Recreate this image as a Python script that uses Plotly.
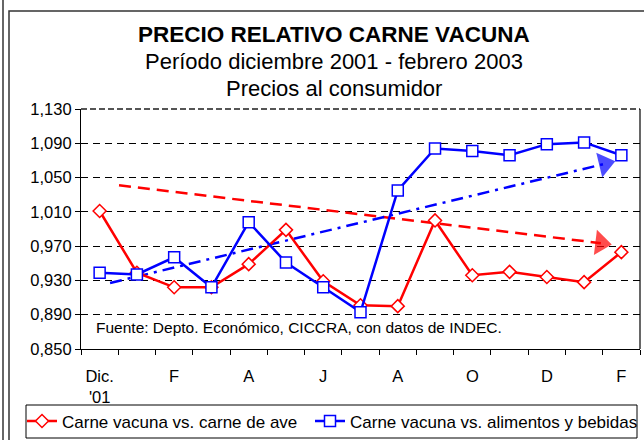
import plotly.graph_objects as go

# ---- data ----
months = ["Dic. '01", "Ene", "Feb", "Mar", "Abr", "May", "Jun", "Jul",
          "Ago", "Sep", "Oct", "Nov", "Dic", "Ene", "Feb"]
tick_idx = [0, 2, 4, 6, 8, 10, 12, 14]
tick_labels = ["Dic.<br>'01", "F", "A", "J", "A", "O", "D", "F"]

vs_ave = [1.011, 0.939, 0.922, 0.922, 0.949, 0.989, 0.929, 0.901, 0.900,
          1.000, 0.936, 0.940, 0.934, 0.928, 0.963]
vs_alim = [0.939, 0.937, 0.957, 0.922, 0.998, 0.951, 0.922, 0.893, 1.035,
           1.084, 1.081, 1.076, 1.089, 1.091, 1.076]

# hand-drawn trend arrows (category index, value)
trend_ave_x = [0.52, 13.45]
trend_ave_y = [1.041, 0.9735]
trend_alim_x = [0.28, 13.55]
trend_alim_y = [0.927, 1.066]

y_ticks = [0.850, 0.890, 0.930, 0.970, 1.010, 1.050, 1.090, 1.130]

# ---- layout geometry (pixels) ----
FIG_W, FIG_H = 644, 440
L, R, T, B = 81, 640, 109, 349
W, H = R - L, B - T


def px_x(p):
    return (p - L) / W


def px_y(p):
    return (B - p) / H


FONT = "Liberation Sans, Arial, sans-serif"
RED = "#FF0000"
BLUE = "#0000FF"

x_idx = list(range(len(months)))

fig = go.Figure()

# trend arrows
fig.add_trace(go.Scatter(
    x=trend_ave_x, y=trend_ave_y, mode="lines+markers",
    line=dict(color=RED, width=2.5, dash="12px,7px"),
    marker=dict(symbol=["circle", "triangle-up"], size=[0, 22], color=RED,
                angleref="previous", line=dict(width=0)),
    showlegend=False, hoverinfo="skip"))
fig.add_trace(go.Scatter(
    x=trend_alim_x, y=trend_alim_y, mode="lines+markers",
    line=dict(color=BLUE, width=2.5, dash="12px,6px,3px,6px"),
    marker=dict(symbol=["circle", "triangle-up"], size=[0, 22], color=BLUE,
                angleref="previous", line=dict(width=0)),
    showlegend=False, hoverinfo="skip"))

fig.add_trace(go.Scatter(
    x=x_idx, y=vs_ave, mode="lines+markers", name="Carne vacuna vs. carne de ave",
    line=dict(color=RED, width=2.5), legend="legend",
    marker=dict(symbol="diamond", size=10, color="white", line=dict(color=RED, width=1.5))))
fig.add_trace(go.Scatter(
    x=x_idx, y=vs_alim, mode="lines+markers", name="Carne vacuna vs. alimentos y bebidas",
    line=dict(color=BLUE, width=2.5), legend="legend2",
    marker=dict(symbol="square", size=11, color="white", line=dict(color=BLUE, width=1.5))))

shapes = [
    # outer frame
    dict(type="line", xref="paper", yref="paper", x0=px_x(3), x1=px_x(3), y0=px_y(0), y1=px_y(440),
         line=dict(color="#333333", width=1.5)),
    dict(type="rect", xref="paper", yref="paper", x0=px_x(9), x1=px_x(660), y0=px_y(11), y1=px_y(460),
         line=dict(color="#333333", width=1.5)),
    # plot area top (dashed) and right border
    dict(type="line", xref="paper", yref="paper", x0=0, x1=1, y0=1, y1=1,
         line=dict(color="#555555", width=2, dash="6px,3px")),
    dict(type="line", xref="paper", yref="paper", x0=1, x1=1, y0=0, y1=1,
         line=dict(color="black", width=1.2)),
    # legend box
    dict(type="rect", xref="paper", yref="paper", x0=px_x(26), x1=px_x(637), y0=px_y(405), y1=px_y(438),
         line=dict(color="black", width=1)),
]

annotations = [
    dict(text="<b>PRECIO RELATIVO CARNE VACUNA</b>", x=px_x(334), y=px_y(34), xref="paper", yref="paper",
         showarrow=False, font=dict(size=22.5, color="black", family=FONT), xanchor="center", yanchor="middle"),
    dict(text="Período diciembre 2001 - febrero 2003", x=px_x(334), y=px_y(61), xref="paper", yref="paper",
         showarrow=False, font=dict(size=22, color="black", family=FONT), xanchor="center", yanchor="middle"),
    dict(text="Precios al consumidor", x=px_x(334), y=px_y(88), xref="paper", yref="paper",
         showarrow=False, font=dict(size=22, color="black", family=FONT), xanchor="center", yanchor="middle"),
    dict(text="Fuente: Depto. Económico, CICCRA, con datos de INDEC.", x=px_x(94), y=px_y(327),
         xref="paper", yref="paper", showarrow=False, xanchor="left", yanchor="middle",
         font=dict(size=15.5, color="black", family=FONT)),
]

legend_style = dict(orientation="h", yanchor="middle", xanchor="left", y=px_y(421.5),
                    font=dict(size=17, family=FONT, color="black"), bgcolor="rgba(0,0,0,0)",
                    itemwidth=30)

fig.update_layout(
    width=FIG_W, height=FIG_H,
    margin=dict(l=L, r=FIG_W - R, t=T, b=FIG_H - B, pad=0, autoexpand=False),
    paper_bgcolor="white", plot_bgcolor="white",
    separators=",.",
    font=dict(family=FONT, color="black", size=16.5),
    shapes=shapes, annotations=annotations,
    showlegend=True,
    legend=dict(x=px_x(22), **legend_style),
    legend2=dict(x=px_x(310), **legend_style),
    xaxis=dict(range=[-0.5, len(months) - 0.5], tickmode="array", tickvals=tick_idx, ticktext=tick_labels,
               ticks="", showgrid=False, zeroline=False, showline=True, linecolor="black", linewidth=1.2,
               ticklabelstandoff=12, tickfont=dict(size=16.5, family=FONT, color="black"),
               minor=dict(tickmode="linear", tick0=-0.5, dtick=1, ticks="outside", ticklen=5,
                          tickcolor="black", tickwidth=1, showgrid=False)),
    yaxis=dict(range=[0.850, 1.130], tickmode="array", tickvals=y_ticks, tickformat=".3f",
               ticks="outside", ticklen=5, tickcolor="black", showline=True, linecolor="black", linewidth=1.2,
               showgrid=True, gridcolor="black", gridwidth=1, griddash="7px,5px", zeroline=False,
               tickfont=dict(size=16.5, family=FONT, color="black")),
)

fig.write_html("out.html", config={"displayModeBar": False},
               post_script="document.body.style.margin='0';document.body.style.overflow='hidden';")
